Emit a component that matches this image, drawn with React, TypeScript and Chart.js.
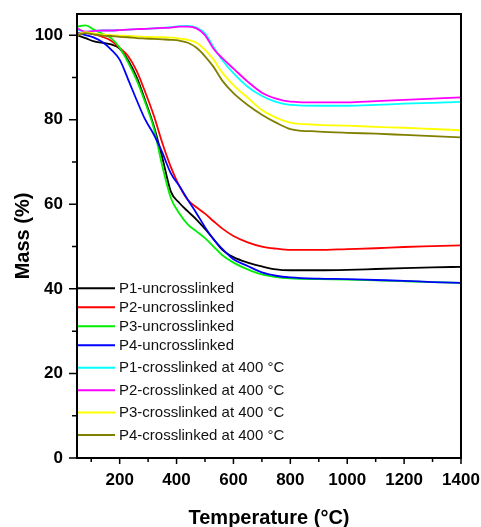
import React, { useEffect, useRef } from 'react';
import { Chart, registerables } from 'chart.js';

Chart.register(...registerables);

const temperatures = [50, 80, 110, 140, 170, 200, 230, 260, 290, 320, 350, 380, 410, 440, 470, 500, 530, 560, 600, 650, 700, 750, 800, 900, 1000, 1100, 1200, 1300, 1400];

const p1Uncrosslinked = [100.0, 99.3, 98.5, 98.2, 97.8, 96.8, 94.0, 90.0, 84.5, 78.5, 71.0, 63.0, 60.3, 58.3, 56.4, 54.2, 51.8, 49.3, 47.5, 46.2, 45.3, 44.6, 44.4, 44.4, 44.5, 44.7, 44.9, 45.1, 45.2];
const p2Uncrosslinked = [100.4, 100.5, 100.2, 99.6, 98.7, 97.0, 95.0, 91.5, 86.5, 81.0, 74.5, 68.8, 64.3, 61.0, 59.3, 57.8, 56.0, 54.3, 52.5, 51.0, 50.0, 49.5, 49.2, 49.2, 49.4, 49.6, 49.9, 50.1, 50.3];
const p3Uncrosslinked = [102.0, 102.3, 101.3, 100.3, 99.3, 97.0, 93.5, 89.3, 84.0, 78.0, 69.0, 61.5, 57.8, 55.2, 53.6, 52.0, 50.0, 48.0, 46.2, 44.6, 43.4, 42.8, 42.5, 42.3, 42.2, 42.0, 41.8, 41.6, 41.4];
const p4Uncrosslinked = [100.5, 100.0, 99.4, 98.3, 96.6, 94.2, 89.5, 84.6, 80.0, 76.5, 72.2, 67.3, 64.3, 61.0, 57.9, 54.6, 51.7, 49.5, 47.0, 45.4, 43.9, 43.1, 42.7, 42.4, 42.3, 42.1, 41.9, 41.6, 41.4];
const p1Crosslinked = [101.3, 100.8, 101.0, 101.1, 101.1, 101.2, 101.3, 101.4, 101.5, 101.6, 101.7, 101.9, 102.1, 102.2, 101.8, 100.4, 97.2, 94.2, 91.0, 87.8, 85.6, 84.2, 83.5, 83.3, 83.3, 83.5, 83.8, 84.0, 84.2];
const p2Crosslinked = [101.6, 100.8, 101.0, 101.1, 101.1, 101.2, 101.3, 101.4, 101.5, 101.6, 101.7, 101.8, 102.0, 102.0, 101.6, 100.0, 96.8, 94.6, 92.1, 89.0, 86.4, 85.0, 84.3, 84.1, 84.1, 84.4, 84.7, 85.0, 85.3];
const p3Crosslinked = [100.0, 100.7, 100.4, 100.2, 100.0, 99.9, 99.8, 99.7, 99.6, 99.5, 99.5, 99.4, 99.2, 98.9, 98.2, 96.5, 94.2, 91.2, 88.2, 85.2, 82.3, 80.5, 79.3, 78.8, 78.6, 78.3, 78.1, 77.8, 77.5];
const p4Crosslinked = [100.0, 100.5, 100.2, 99.9, 99.8, 99.6, 99.5, 99.3, 99.2, 99.1, 99.0, 98.9, 98.7, 98.2, 97.0, 95.0, 92.5, 89.3, 86.3, 83.5, 81.2, 79.3, 77.8, 77.2, 76.9, 76.7, 76.4, 76.1, 75.8];

const seriesLabels = [
  'P1-uncrosslinked',
  'P2-uncrosslinked',
  'P3-uncrosslinked',
  'P4-uncrosslinked',
  'P1-crosslinked at 400 °C',
  'P2-crosslinked at 400 °C',
  'P3-crosslinked at 400 °C',
  'P4-crosslinked at 400 °C',
];
const seriesValues = [p1Uncrosslinked, p2Uncrosslinked, p3Uncrosslinked, p4Uncrosslinked, p1Crosslinked, p2Crosslinked, p3Crosslinked, p4Crosslinked];
const seriesColors = ['#000000', '#ff0000', '#00ee00', '#0000ff', '#00ffff', '#ff00ff', '#ffff00', '#808000'];

const xTickValues = [200, 400, 600, 800, 1000, 1200, 1400];
const xMinorTickValues = [100, 300, 500, 700, 900, 1100, 1300];
const yTickValues = [0, 20, 40, 60, 80, 100];
const yMinorTickValues = [10, 30, 50, 70, 90];

const FONT = '"Liberation Sans", Arial, Helvetica, sans-serif';

const frameAndLegend = {
  id: 'frameAndLegend',
  afterDraw(chart: any) {
    const { ctx, chartArea: a, scales } = chart;
    const xs = scales.x;
    const ys = scales.y;
    ctx.save();
    ctx.strokeStyle = '#000';
    ctx.lineWidth = 2;
    ctx.strokeRect(a.left, a.top, a.right - a.left, a.bottom - a.top);
    ctx.lineWidth = 1.5;
    ctx.beginPath();
    xTickValues.forEach((v) => {
      const px = xs.getPixelForValue(v);
      ctx.moveTo(px, a.bottom);
      ctx.lineTo(px, a.bottom + 6);
    });
    xMinorTickValues.forEach((v) => {
      const px = xs.getPixelForValue(v);
      ctx.moveTo(px, a.bottom);
      ctx.lineTo(px, a.bottom + 4);
    });
    yTickValues.forEach((v) => {
      const py = ys.getPixelForValue(v);
      ctx.moveTo(a.left, py);
      ctx.lineTo(a.left - 8, py);
    });
    yMinorTickValues.forEach((v) => {
      const py = ys.getPixelForValue(v);
      ctx.moveTo(a.left, py);
      ctx.lineTo(a.left - 5, py);
    });
    ctx.stroke();

    // legend
    ctx.font = '15px ' + FONT;
    ctx.textBaseline = 'middle';
    ctx.textAlign = 'left';
    let rowY = ys.getPixelForValue(40) - 0.5;
    seriesLabels.forEach((label, i) => {
      if (i > 0) rowY += label.includes('°') ? 22.4 : 19;
      ctx.strokeStyle = seriesColors[i];
      ctx.lineWidth = 2;
      ctx.beginPath();
      ctx.moveTo(a.left + 1, rowY);
      ctx.lineTo(a.left + 38, rowY);
      ctx.stroke();
      ctx.fillStyle = '#111';
      ctx.fillText(label, a.left + 42, rowY + 0.5);
    });
    ctx.restore();
  },
};

const zeroPadding = (s: any) => {
  s.paddingTop = 0;
  s.paddingBottom = 0;
  s.paddingLeft = 0;
  s.paddingRight = 0;
};

export default function App() {
  const canvasRef = useRef<HTMLCanvasElement | null>(null);

  useEffect(() => {
    if (!canvasRef.current) return;
    const datasets = seriesLabels.map((label, i) => ({
      label,
      data: temperatures.map((t, j) => ({ x: t, y: seriesValues[i][j] })),
      borderColor: seriesColors[i],
      backgroundColor: seriesColors[i],
      borderWidth: 1.8,
      pointRadius: 0,
      cubicInterpolationMode: 'monotone' as const,
      fill: false,
      order: seriesLabels.length - i,
    }));
    const chart = new Chart(canvasRef.current, {
      type: 'line',
      data: { datasets },
      plugins: [frameAndLegend],
      options: {
        animation: false,
        responsive: false,
        layout: { padding: { top: 14, right: 20, left: 0, bottom: 0 } },
        plugins: { legend: { display: false }, tooltip: { enabled: false } },
        scales: {
          x: {
            type: 'linear',
            min: 50,
            max: 1400,
            afterFit: (s: any) => { s.height = 69; zeroPadding(s); },
            afterBuildTicks: (s: any) => { s.ticks = xTickValues.map((v) => ({ value: v })); },
            grid: { display: false, drawTicks: false },
            border: { display: false },
            ticks: { padding: 12, color: '#000', font: { family: FONT, size: 17, weight: 'bold' }, maxRotation: 0, autoSkip: false, callback: (v: any) => String(v) },
            title: { display: true, text: 'Temperature (°C)', color: '#000', font: { family: FONT, size: 20, weight: 'bold', lineHeight: 0.8 }, padding: { top: 0, bottom: 1 } },
          },
          y: {
            type: 'linear',
            min: 0,
            max: 105,
            afterFit: (s: any) => { s.width = 77; zeroPadding(s); },
            afterBuildTicks: (s: any) => { s.ticks = yTickValues.map((v) => ({ value: v })); },
            grid: { display: false, drawTicks: false },
            border: { display: false },
            ticks: { padding: 14, color: '#000', font: { family: FONT, size: 17, weight: 'bold' }, autoSkip: false, callback: (v: any) => String(v) },
            title: { display: true, text: 'Mass (%)', color: '#000', font: { family: FONT, size: 20, weight: 'bold', lineHeight: 0.8 }, padding: { top: 15, bottom: 0 } },
          },
        },
      },
    });
    return () => chart.destroy();
  }, []);

  return (
    <div style={{ position: 'fixed', left: 0, top: 0, width: 481, height: 527, background: '#fff' }}>
      <canvas ref={canvasRef} width={481} height={527} style={{ display: 'block' }} />
    </div>
  );
}
